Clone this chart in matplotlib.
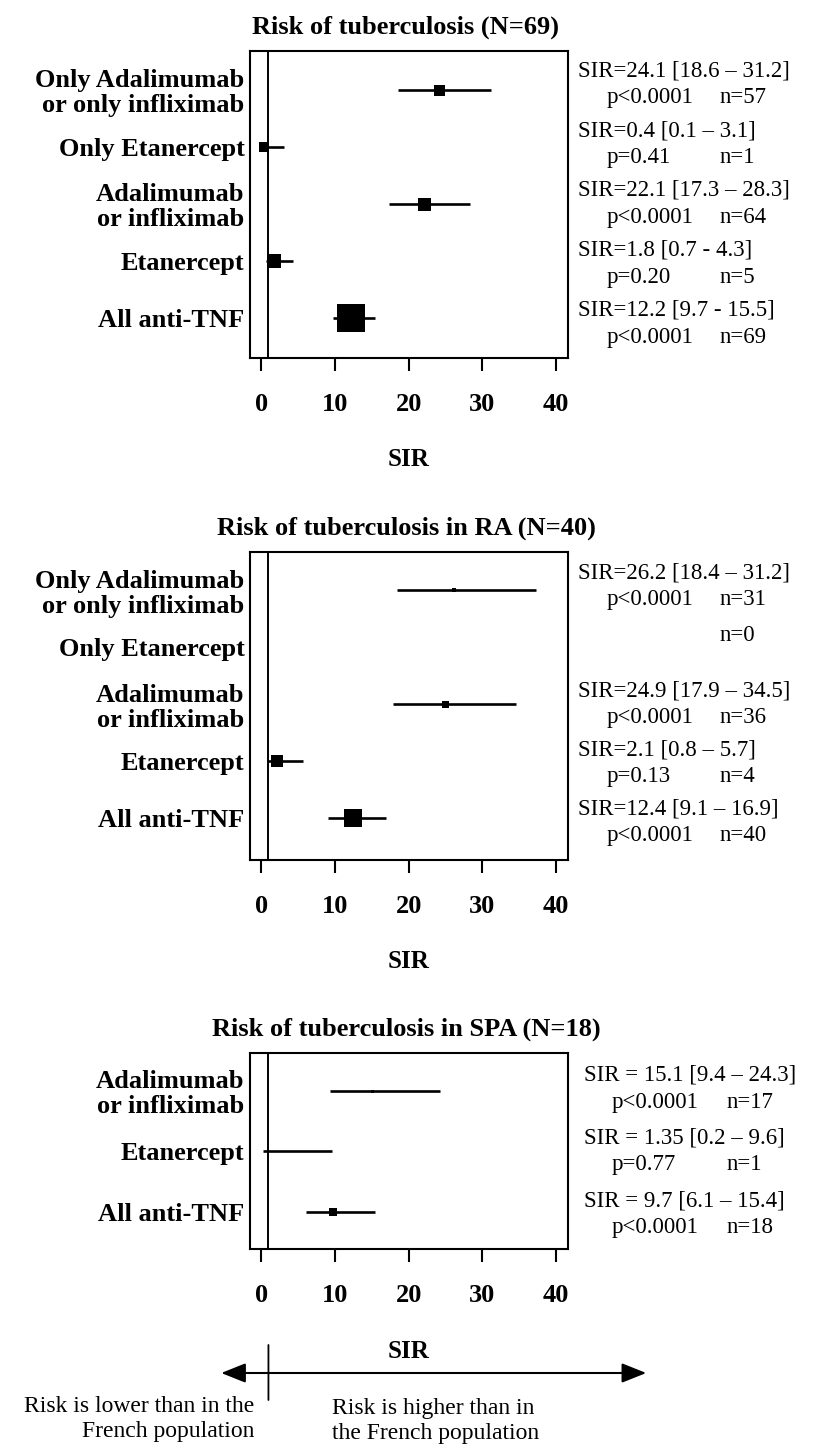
import matplotlib
matplotlib.use("Agg")
import matplotlib.pyplot as plt
import numpy as np

FIG_W, FIG_H = 817, 1445
DPI = 100

# --- data: all patients ---
ALL_TITLE = "Risk of tuberculosis (N=69)"
ALL_LABELS = ["Only Adalimumab\nor only infliximab", "Only Etanercept",
              "Adalimumab\nor infliximab", "Etanercept", "All anti-TNF"]
ALL_SIR = [24.1, 0.4, 22.1, 1.8, 12.2]
ALL_LO = [18.6, 0.1, 17.3, 0.7, 9.7]
ALL_HI = [31.2, 3.1, 28.3, 4.3, 15.5]
ALL_CI_TEXT = ["SIR=24.1 [18.6 \u2013 31.2]", "SIR=0.4 [0.1 \u2013 3.1]",
               "SIR=22.1 [17.3 \u2013 28.3]", "SIR=1.8 [0.7 - 4.3]",
               "SIR=12.2 [9.7 - 15.5]"]
ALL_P = ["p<0.0001", "p=0.41", "p<0.0001", "p=0.20", "p<0.0001"]
ALL_N = ["n=57", "n=1", "n=64", "n=5", "n=69"]

# --- data: rheumatoid arthritis ---
RA_TITLE = "Risk of tuberculosis in RA (N=40)"
RA_LABELS = ALL_LABELS
RA_SIR = [26.2, np.nan, 24.9, 2.1, 12.4]
RA_LO = [18.4, np.nan, 17.9, 0.8, 9.1]
RA_HI = [37.3, np.nan, 34.5, 5.7, 16.9]
RA_CI_TEXT = ["SIR=26.2 [18.4 \u2013 31.2]", "", "SIR=24.9 [17.9 \u2013 34.5]",
              "SIR=2.1 [0.8 \u2013 5.7]", "SIR=12.4 [9.1 \u2013 16.9]"]
RA_P = ["p<0.0001", "", "p<0.0001", "p=0.13", "p<0.0001"]
RA_N = ["n=31", "n=0", "n=36", "n=4", "n=40"]

# --- data: spondylarthropathy ---
SPA_TITLE = "Risk of tuberculosis in SPA (N=18)"
SPA_LABELS = ["Adalimumab\nor infliximab", "Etanercept", "All anti-TNF"]
SPA_SIR = [15.1, 1.35, 9.7]
SPA_LO = [9.4, 0.2, 6.1]
SPA_HI = [24.3, 9.6, 15.4]
SPA_CI_TEXT = ["SIR = 15.1 [9.4 \u2013 24.3]", "SIR = 1.35 [0.2 \u2013 9.6]",
               "SIR = 9.7 [6.1 \u2013 15.4]"]
SPA_P = ["p<0.0001", "p=0.77", "p<0.0001"]
SPA_N = ["n=17", "n=1", "n=18"]

X_TICKS = [0, 10, 20, 30, 40]
REFERENCE_SIR = 1

# style: square side in pixels (weights of the original plot)
ALL_MARKER_PX = [11, 10, 13, 14, 28]
RA_MARKER_PX = [5, 0, 7, 12, 18]
SPA_MARKER_PX = [3, 1, 8]

plt.rcParams["font.family"] = ["Liberation Serif", "DejaVu Serif"]
PX = 72.0 / DPI


def draw_panel(ax, title, labels, sir, lo, hi, marker_px, ci_text, p_text, n_text,
               ylim, text_dx, pitch):
    ypos = np.arange(len(labels), 0, -1)
    for y, s, l, h, m in zip(ypos, sir, lo, hi, marker_px):
        if np.isnan(s):
            continue
        ax.plot([l, h], [y, y], color="black", lw=1.9, solid_capstyle="butt", zorder=3)
        ax.plot([s], [y], marker="s", ms=m * PX, mew=0, color="black", zorder=4)
    ax.axvline(REFERENCE_SIR, color="black", lw=1.4, zorder=2)

    ax.set_xlim(-1.5, 41.6)
    ax.set_ylim(*ylim)
    ax.set_xticks(X_TICKS)
    ax.set_xticklabels([str(t) for t in X_TICKS], fontsize=19, fontweight="bold")
    ax.tick_params(axis="x", length=13 * PX, width=1.5, pad=16, direction="out")
    ax.set_yticks(ypos)
    ax.set_yticklabels(labels, fontsize=19, fontweight="bold", linespacing=1.1)
    ax.tick_params(axis="y", length=0, pad=4)
    for sp in ax.spines.values():
        sp.set_linewidth(1.5)

    ax.annotate(title, (0.5, 1), xycoords="axes fraction", xytext=(-3, 24),
                textcoords="offset pixels", ha="center", va="center",
                fontsize=19, fontweight="bold", annotation_clip=False)
    ax.annotate("SIR", (0.5, 0), xycoords="axes fraction", xytext=(0, -102),
                textcoords="offset pixels", ha="center", va="center",
                fontsize=18, fontweight="bold", annotation_clip=False)

    mid = (ypos[0] + ypos[-1]) / 2.0
    for y, ci, p, n in zip(ypos, ci_text, p_text, n_text):
        yt = mid + (y - mid) * pitch
        kw = dict(xycoords=("axes fraction", "data"), textcoords="offset pixels",
                  ha="left", va="center", fontsize=16.5, annotation_clip=False)
        if ci:
            ax.annotate(ci, (1, yt), xytext=(text_dx[0], 13.5), **kw)
        if p:
            ax.annotate(p, (1, yt), xytext=(text_dx[1], -13.5), **kw)
            ax.annotate(n, (1, yt), xytext=(text_dx[2], -13.5), **kw)
        else:
            ax.annotate(n, (1, yt), xytext=(text_dx[2], 10), **kw)


def axes_rect(top_px, bottom_px, left_px=250, right_px=568):
    return [left_px / FIG_W, 1 - bottom_px / FIG_H,
            (right_px - left_px) / FIG_W, (bottom_px - top_px) / FIG_H]


fig = plt.figure(figsize=(FIG_W / DPI, FIG_H / DPI), dpi=DPI)
ax1 = fig.add_axes(axes_rect(51, 358))
ax2 = fig.add_axes(axes_rect(552, 860))
ax3 = fig.add_axes(axes_rect(1053, 1249))

draw_panel(ax1, ALL_TITLE, ALL_LABELS, ALL_SIR, ALL_LO, ALL_HI, ALL_MARKER_PX,
           ALL_CI_TEXT, ALL_P, ALL_N, (0.3, 5.68), (10, 39, 152), 1.05)
draw_panel(ax2, RA_TITLE, RA_LABELS, RA_SIR, RA_LO, RA_HI, RA_MARKER_PX,
           RA_CI_TEXT, RA_P, RA_N, (0.27, 5.67), (10, 39, 152), 1.035)
draw_panel(ax3, SPA_TITLE, SPA_LABELS, SPA_SIR, SPA_LO, SPA_HI, SPA_MARKER_PX,
           SPA_CI_TEXT, SPA_P, SPA_N, (0.38, 3.63), (16, 44, 159), 1.04)

# direction arrow under the last panel
arrow_y = FIG_H - 1373
ax3.annotate("", xy=(52.2, arrow_y), xytext=(-5.4, arrow_y),
             xycoords=("data", "figure pixels"), textcoords=("data", "figure pixels"),
             arrowprops=dict(arrowstyle="<|-|>,head_length=0.75,head_width=0.3",
                             color="black", lw=1.5, mutation_scale=20,
                             shrinkA=0, shrinkB=0),
             annotation_clip=False)
ax3.annotate("", xy=(REFERENCE_SIR, FIG_H - 1400), xytext=(REFERENCE_SIR, FIG_H - 1345),
             xycoords=("data", "figure pixels"), textcoords=("data", "figure pixels"),
             arrowprops=dict(arrowstyle="-", color="black", lw=1.3,
                             shrinkA=0, shrinkB=0),
             annotation_clip=False)

fig.text(254 / FIG_W, 1 - 1419 / FIG_H, "Risk is lower than in the\nFrench population",
         ha="right", va="center", fontsize=17, linespacing=1.3)
fig.text(332 / FIG_W, 1 - 1421 / FIG_H, "Risk is higher than in\nthe French population",
         ha="left", va="center", fontsize=17, linespacing=1.3)

fig.savefig("out.png", dpi=DPI, facecolor="white")
